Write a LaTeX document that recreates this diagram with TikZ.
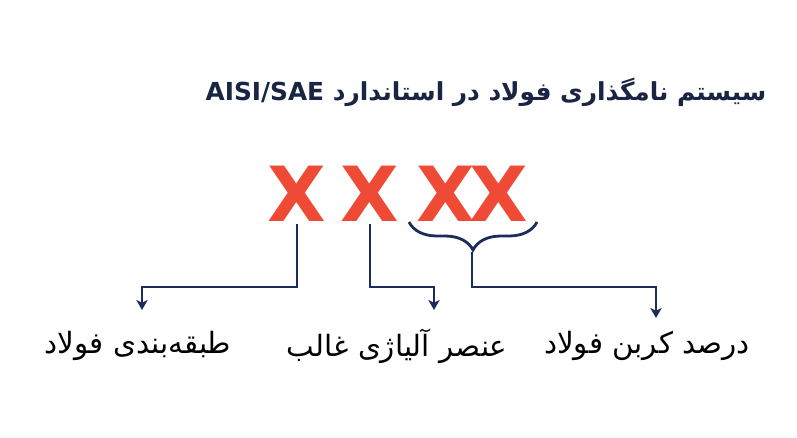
\documentclass[tikz,border=0pt]{standalone}
\usepackage{fontspec}
\setmainfont{DejaVu Sans}
\newfontfamily\arabicfont[Script=Arabic]{DejaVu Sans}
\TeXXeTstate=1
\usepackage{tikz}
\usetikzlibrary{positioning,arrows.meta,calc,decorations.pathreplacing}
\definecolor{xred}{HTML}{EE4A35}
\definecolor{navy}{HTML}{1B2D5C}
\definecolor{titlenavy}{HTML}{1A2443}

\begin{document}
\begin{tikzpicture}[x=0.75pt, y=-0.75pt,
  xmark/.style={text=xred, font=\fontsize{57}{60}\selectfont\bfseries, inner sep=0pt, anchor=base},
  fa/.style={font=\arabicfont\fontsize{22}{26}\selectfont, inner sep=0pt, text=black},
  link/.style={draw=navy, line width=2.1pt, -{Stealth[length=7.5pt, width=8.5pt, inset=2pt]}}]
  \useasboundingbox[fill=white] (0,0) rectangle (797,437);
  \node[fa, text=titlenavy, font=\arabicfont\fontsize{18.6}{22}\selectfont\bfseries] (title) at (486,92)
    {\beginR سیستم نامگذاری فولاد در استاندارد \beginL AISI/SAE\endL\endR};
  \node[xmark] (x1) at (297,221) {X};
  \node[xmark] (x2) at (370,221) {X};
  \node[xmark] (x34) at (472,221) {X\kern-4pt X};
  \coordinate (br) at (537,222);
  \coordinate (bl) at (409,222);
  \coordinate (bt) at (472,252);
  \node[fa] (lab1) at (138,346) {\beginR طبقه‌بندی فولاد\endR};
  \node[fa] (lab2) at (397,346) {\beginR عنصر آلیاژی غالب\endR};
  \node[fa] (lab3) at (647,346) {\beginR درصد کربن فولاد\endR};
  \coordinate (t1) at (142,310);
  \coordinate (t2) at (434,310);
  \coordinate (t3) at (656,318);
  \draw[navy, line width=2.1pt, decorate, decoration={brace, amplitude=21pt, aspect=0.5}] (br) -- (bl);
  \path[link] (x1.base) ++(0,3) -- ++(0,63) -| (t1);
  \path[link] (x2.base) ++(0,3) -- ++(0,63) -| (t2);
  \path[link] (bt) |- (486,287) -| (t3);
\end{tikzpicture}
\end{document}
